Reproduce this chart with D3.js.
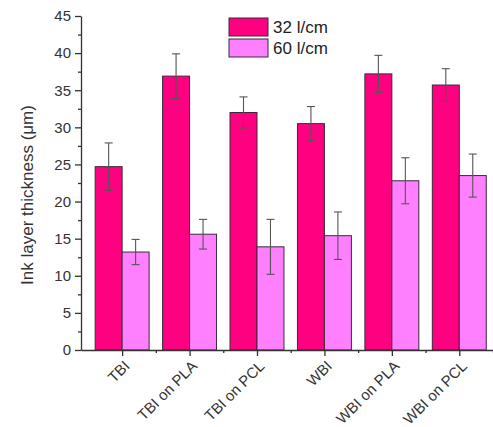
<!DOCTYPE html>
<html>
<head>
<meta charset="utf-8">
<script src="https://cdn.jsdelivr.net/npm/d3@7"></script>
<style>
  body { margin: 0; background: #fff; }
  svg { display: block; font-family: "Liberation Sans", Arial, sans-serif; }
</style>
</head>
<body>
<svg id="chart"></svg>
<script>
// Data
const categories = ['TBI', 'TBI on PLA', 'TBI on PCL', 'WBI', 'WBI on PLA', 'WBI on PCL'];
const series = ['32 l/cm', '60 l/cm'];
const values32 = [24.7, 36.9, 32.0, 30.5, 37.2, 35.7];
const errors32 = [3.2, 3.0, 2.1, 2.3, 2.5, 2.2];
const values60 = [13.2, 15.6, 13.9, 15.4, 22.8, 23.5];
const errors60 = [1.7, 2.0, 3.7, 3.2, 3.1, 2.9];
const yTicks = [0, 5, 10, 15, 20, 25, 30, 35, 40, 45];
const colors = ['#ff0080', '#ff80ff'];

const svgWidth = 493;
const svgHeight = 427;

const svg = d3.select('#chart')
    .attr('width', svgWidth)
    .attr('height', svgHeight);

// Scales
const xScale = d3.scaleLinear()
    .domain([0.39, 6.5])
    .range([81, 493]);

const yScale = d3.scaleLinear()
    .domain([0, 45])
    .range([350, 16]);

const barW = xScale(0.4) - xScale(0);

const rows = [];
categories.forEach((c, i) => {
    rows.push({ cat: i + 1, s: 0, v: values32[i], e: errors32[i] });
    rows.push({ cat: i + 1, s: 1, v: values60[i], e: errors60[i] });
});

// Bars
svg.selectAll('.bar')
    .data(rows)
    .enter()
    .append('rect')
    .attr('class', 'bar')
    .attr('x', d => d.s === 0 ? xScale(d.cat) - barW : xScale(d.cat))
    .attr('y', d => yScale(d.v))
    .attr('width', barW)
    .attr('height', d => yScale(0) - yScale(d.v))
    .attr('fill', d => colors[d.s])
    .attr('stroke', '#3a2a3a')
    .attr('stroke-width', 1);

// Error bars
const err = svg.selectAll('.err')
    .data(rows)
    .enter()
    .append('g')
    .attr('class', 'err')
    .attr('stroke', '#555')
    .attr('stroke-width', 1.1);

const cx = d => d.s === 0 ? xScale(d.cat) - barW / 2 : xScale(d.cat) + barW / 2;

err.append('line')
    .attr('x1', cx).attr('x2', cx)
    .attr('y1', d => yScale(d.v + d.e))
    .attr('y2', d => yScale(d.v - d.e));
err.append('line')
    .attr('x1', d => cx(d) - 4).attr('x2', d => cx(d) + 4)
    .attr('y1', d => yScale(d.v + d.e))
    .attr('y2', d => yScale(d.v + d.e));
err.append('line')
    .attr('x1', d => cx(d) - 4).attr('x2', d => cx(d) + 4)
    .attr('y1', d => yScale(d.v - d.e))
    .attr('y2', d => yScale(d.v - d.e));

// Y axis
const yAxis = svg.append('g')
    .attr('transform', 'translate(81, 0)')
    .call(d3.axisLeft(yScale).tickValues(yTicks).tickSize(6).tickPadding(4).tickSizeOuter(0));

svg.append('g')
    .attr('transform', 'translate(81, 0)')
    .call(d3.axisLeft(yScale).tickValues(yTicks.slice(1).map(t => t - 2.5)).tickSize(3).tickFormat('').tickSizeOuter(0))
    .select('.domain').remove();

// X axis
const xAxis = svg.append('g')
    .attr('transform', 'translate(0, 350)')
    .call(d3.axisBottom(xScale).tickValues(categories.map((c, i) => i + 1))
        .tickFormat((d, i) => categories[i]).tickSize(6).tickSizeOuter(0));

svg.append('g')
    .attr('transform', 'translate(0, 350)')
    .call(d3.axisBottom(xScale).tickValues(categories.map((c, i) => i + 1.5)).tickSize(3).tickFormat('').tickSizeOuter(0))
    .select('.domain').remove();

svg.selectAll('.domain, .tick line')
    .attr('stroke', '#333')
    .attr('stroke-width', 1.3);

yAxis.selectAll('text')
    .attr('font-size', 15)
    .attr('fill', '#333');

xAxis.selectAll('text')
    .attr('font-size', 15)
    .attr('fill', '#333')
    .attr('text-anchor', 'end')
    .attr('dy', 0)
    .attr('transform', 'translate(8, 17) rotate(-45)')
    .attr('y', 0)
    .attr('x', 0);

// Y axis title
svg.append('text')
    .attr('transform', 'translate(33, 195) rotate(-90)')
    .attr('text-anchor', 'middle')
    .attr('font-size', 17)
    .attr('fill', '#333')
    .text('Ink layer thickness (\u03bcm)');

// Legend
const legend = svg.selectAll('.legend')
    .data(series)
    .enter()
    .append('g')
    .attr('class', 'legend')
    .attr('transform', (d, i) => `translate(229, ${18 + i * 21})`);

legend.append('rect')
    .attr('width', 39)
    .attr('height', 18)
    .attr('fill', (d, i) => colors[i])
    .attr('stroke', '#3a2a3a')
    .attr('stroke-width', 1);

legend.append('text')
    .attr('x', 44)
    .attr('y', 15)
    .attr('font-size', 17)
    .attr('fill', '#222')
    .text(d => d);
</script>
</body>
</html>
